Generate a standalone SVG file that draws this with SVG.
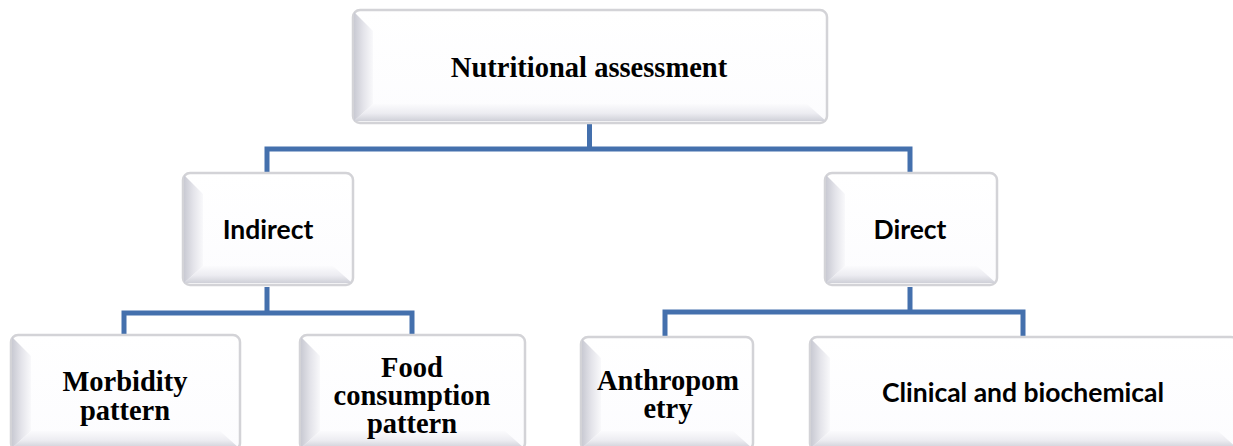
<svg xmlns="http://www.w3.org/2000/svg" width="1233" height="446" viewBox="0 0 1233 446">
  <defs>
    <linearGradient id="gLeft" x1="0" y1="0" x2="1" y2="0">
      <stop offset="0" stop-color="#c9cad3"/>
      <stop offset="0.5" stop-color="#e4e4ea"/>
      <stop offset="1" stop-color="#f9f9fb"/>
    </linearGradient>
    <linearGradient id="gBottom" x1="0" y1="0" x2="0" y2="1">
      <stop offset="0" stop-color="#fbfbfd"/>
      <stop offset="0.55" stop-color="#ececf1"/>
      <stop offset="1" stop-color="#cfd0d8"/>
    </linearGradient>
    <linearGradient id="gFace" x1="0" y1="0" x2="0" y2="1">
      <stop offset="0" stop-color="#ffffff"/>
      <stop offset="1" stop-color="#fcfcfe"/>
    </linearGradient>
  </defs>
  <style>
    .frame { fill: url(#gFace); stroke: #d3d3d7; stroke-width: 2.5; }
    .bl { fill: url(#gLeft); }
    .bb { fill: url(#gBottom); }
    .conn { fill: none; stroke: #4470ad; stroke-width: 5; stroke-linejoin: miter; stroke-linecap: butt; }
    .serif { font-family: "Liberation Serif", "Times New Roman", serif; font-weight: bold; font-size: 28.5px; fill: #000; text-anchor: middle; }
    .sans { font-family: Lato, "Liberation Sans", sans-serif; font-weight: bold; font-size: 26.5px; fill: #000; text-anchor: middle; }
  </style>

  <g id="connectors">
    <path class="conn" d="M589.5 124 V149 M267 173 V149 H910 V173"/>
    <path class="conn" d="M267 287 V313 M124 335 V313 H412 V335"/>
    <path class="conn" d="M910 287 V312 M665 337 V312 H1023 V337"/>
  </g>

  <g id="node-nutritional">
    <rect class="frame" x="353" y="10" width="474" height="113" rx="7"/>
    <polygon class="bl" points="354,12 373,31 373,104 354,121"/>
    <polygon class="bb" points="354,121 373,104 807,104 826,121"/>
    <text class="serif" x="589" y="77">Nutritional assessment</text>
  </g>

  <g id="node-indirect">
    <rect class="frame" x="183" y="173" width="170" height="112" rx="7"/>
    <polygon class="bl" points="184,175 203,194 203,266 184,283"/>
    <polygon class="bb" points="184,283 203,266 333,266 352,283"/>
    <text class="sans" x="268" y="239">Indirect</text>
  </g>

  <g id="node-direct">
    <rect class="frame" x="825" y="173" width="172" height="112" rx="7"/>
    <polygon class="bl" points="826,175 845,194 845,266 826,283"/>
    <polygon class="bb" points="826,283 845,266 977,266 996,283"/>
    <text class="sans" x="910" y="239">Direct</text>
  </g>

  <g id="node-morbidity">
    <rect class="frame" x="11" y="335" width="229" height="115" rx="7"/>
    <polygon class="bl" points="12,337 31,356 31,431 12,448"/>
    <polygon class="bb" points="12,448 31,431 220,431 239,448"/>
    <text class="serif" x="125" y="391">Morbidity</text>
    <text class="serif" x="125" y="420">pattern</text>
  </g>

  <g id="node-food">
    <rect class="frame" x="300" y="335" width="225" height="115" rx="7"/>
    <polygon class="bl" points="301,337 320,356 320,431 301,448"/>
    <polygon class="bb" points="301,448 320,431 505,431 524,448"/>
    <text class="serif" x="412" y="377">Food</text>
    <text class="serif" x="412" y="405">consumption</text>
    <text class="serif" x="412" y="433">pattern</text>
  </g>

  <g id="node-anthropometry">
    <rect class="frame" x="581" y="337" width="172" height="113" rx="7"/>
    <polygon class="bl" points="582,339 601,358 601,431 582,448"/>
    <polygon class="bb" points="582,448 601,431 733,431 752,448"/>
    <text class="serif" x="668" y="390">Anthropom</text>
    <text class="serif" x="668" y="418">etry</text>
  </g>

  <g id="node-clinical">
    <rect class="frame" x="810" y="337" width="428" height="113" rx="7"/>
    <polygon class="bl" points="811,339 830,358 830,431 811,448"/>
    <polygon class="bb" points="811,448 830,431 1218,431 1237,448"/>
    <text class="sans" x="1023" y="402">Clinical and biochemical</text>
  </g>
</svg>
